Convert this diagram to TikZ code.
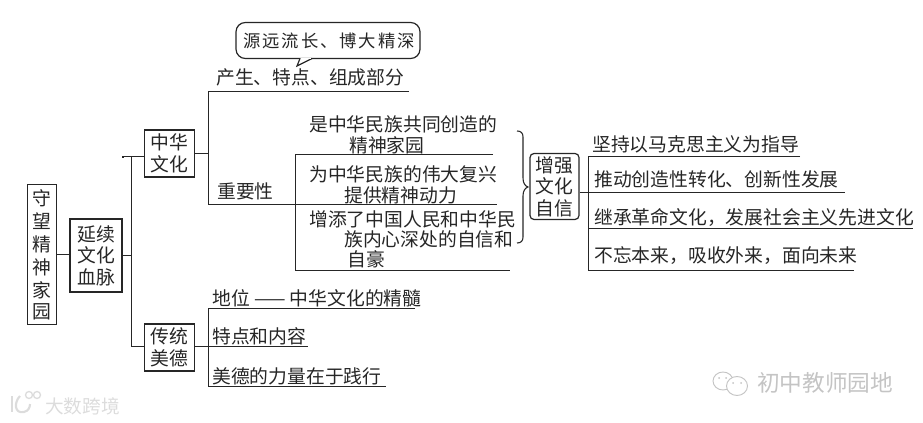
\documentclass[tikz,border=0pt]{standalone}
\usepackage{fontspec}
\setmainfont{Noto Sans CJK SC}
\usetikzlibrary{calc}
\definecolor{ink}{HTML}{262626}
\definecolor{wm}{HTML}{C4C4C4}
\tikzset{
 x=0.75pt,y=-0.75pt,
 ln/.style={draw=ink,line width=0.9pt,line join=miter},
 txt/.style={inner sep=0pt,anchor=west,text=ink,font=\fontsize{14.1}{14.1}\selectfont},
 boxed/.style={draw=ink,line width=0.9pt,fill=white,inner sep=0pt,align=center,text=ink,font=\fontsize{14.1}{16.2}\selectfont},
 rbox/.style={boxed,rounded corners=3pt},
 wmtxt/.style={inner sep=0pt,anchor=west,text=wm}
}
\begin{document}
\begin{tikzpicture}
\useasboundingbox (0,0) rectangle (923,423);
% boxes
\node[boxed,minimum width=21.75pt,minimum height=105pt] (root) at (42,254.5) {};
\foreach \c/\y in {守/198,望/221,精/244,神/267,家/290,园/312}
  \node[txt,anchor=center] at (41.5,\y) {\c};
\node[boxed,minimum width=39pt,minimum height=54.75pt] (yanxu) at (96,255.5) {};
\node[txt,anchor=center] at (96,234) {延续};
\node[txt,anchor=center] at (96,255.5) {文化};
\node[txt,anchor=center] at (96,277) {血脉};
\node[boxed,minimum width=37.5pt,minimum height=35.25pt] (zh) at (169.5,153.5) {中华\\文化};
\node[boxed,minimum width=37.5pt,minimum height=35.25pt] (ct) at (169.5,347.5) {传统\\美德};
\node[rbox,minimum width=36.75pt,minimum height=49.5pt] (zq) at (554.5,186.5) {增强\\文化\\自信};
% callout
\draw[ln,rounded corners=7pt,fill=white]
  (236,22.5) -- (420,22.5) -- (420,58.5) -- (236,58.5) -- cycle;
\draw[ln,fill=white] (300,58.5) -- (297,66) -- (312,58.5);
\draw[white,line width=1.1pt] (300.8,58.5) -- (311,58.5);
\node[txt,anchor=center,font=\fontsize{13}{13}\selectfont] (yy) at (329,41) {源\kern1.5pt 远\kern1.5pt 流\kern1.5pt 长\kern1.5pt 、\kern1.5pt 博\kern1.5pt 大\kern1.5pt 精\kern1.5pt 深};
% connectors
\coordinate (t1) at (131.5,156.5);
\coordinate (t2) at (131.5,346.5);
\draw[ln] (root.east |- 0,254.5) -- (yanxu.west |- 0,254.5);
\draw[ln] (yanxu.east |- 0,255.5) -- (131.5,255.5);
\draw[ln] (123,158) -- (123,156.5) -- (t1) -- (zh.west |- t1);
\draw[ln] (t1) -- (t2) -- (ct.west |- t2);
% bracket 1
\coordinate (b1a) at (208.5,91.5);
\coordinate (b1b) at (208.5,204.5);
\draw[ln] (zh.east) -- (zh.east -| b1a);
\draw[ln] (409,91.5) -- (b1a) -- (b1b) -- (497,204.5);
\draw[ln] (493,154.5) -- (295.5,154.5) -- (295.5,270.5) -- (510,270.5);
% bracket 2
\coordinate (b2) at (588.5,192.5);
\draw[ln] (zq.east |- b2) -- (b2);
\draw[ln] (800,156.5) -- (588.5,156.5) -- (588.5,270.5) -- (854,270.5);
\draw[ln] (b2) -- (845,192.5);
\draw[ln] (588.5,228.5) -- (913,228.5);
% bracket 3
\draw[ln] (ct.east |- t2) -- (308,346.5);
\draw[ln] (415,308.5) -- (208.5,308.5) -- (208.5,386.5) -- (386,386.5);
% brace
\draw[draw=ink,line width=0.8pt] (517,131) .. controls (521,131) and (523,133) .. (523,137)
  -- (523,178) .. controls (523,183) and (525,186) .. (528,187)
  .. controls (525,188) and (523,191) .. (523,196)
  -- (523,237) .. controls (523,241) and (521,243) .. (517,243);
% texts
\node[txt] at (216,77) {产生、特点、组成部分};
\node[txt] at (217,191) {重要性};
\node[txt] at (309,124) {是中华民族共同创造的};
\node[txt] at (349,145) {精神家园};
\node[txt] at (309,174) {为中华民族的伟大复兴};
\node[txt] at (344,195) {提供精神动力};
\node[txt] at (309,219) {增添了中国人民和中华民};
\node[txt] at (344,239) {族内心深处的自信和};
\node[txt] at (347,259) {自豪};
\node[txt] at (592,144) {坚持以马克思主义为指导};
\node[txt] at (594,179) {推动创造性转化、创新性发展};
\node[txt] at (594,217) {继承革命文化，发展社会主义先进文化};
\node[txt] at (594,256) {不忘本来，吸收外来，面向未来};
\node[txt] at (212,298) {地位 —— 中华文化的精髓};
\node[txt] at (212,336) {特点和内容};
\node[txt] at (212,376) {美德的力量在于践行};
% watermarks
\node[wmtxt,font=\fontsize{17}{17}\selectfont] at (757,383) {初中教师园地};
\node[wmtxt,font=\fontsize{14}{14}\selectfont,text=wm!60] at (45,406) {大数跨境};
\draw[wm,line width=0.7pt,fill=white] (723,381) ellipse (10 and 9);
\draw[wm,line width=0.7pt,fill=white] (737,386) ellipse (10.5 and 9.5);
\fill[wm] (719,378) circle (1) (726,378) circle (1) (733,383) circle (1) (741,383) circle (1);
\draw[wm!60,line width=1.6pt] (12,396) -- (12,412);
\draw[wm!60,line width=1.6pt] (20,396) .. controls (14,402) and (14,414) .. (24,412) .. controls (28,411) and (30,408) .. (30,404);
\draw[wm!60,line width=1pt] (29,395) circle (3.5);
\draw[wm!60,line width=1pt] (37,395) circle (3.5);
\end{tikzpicture}
\end{document}
